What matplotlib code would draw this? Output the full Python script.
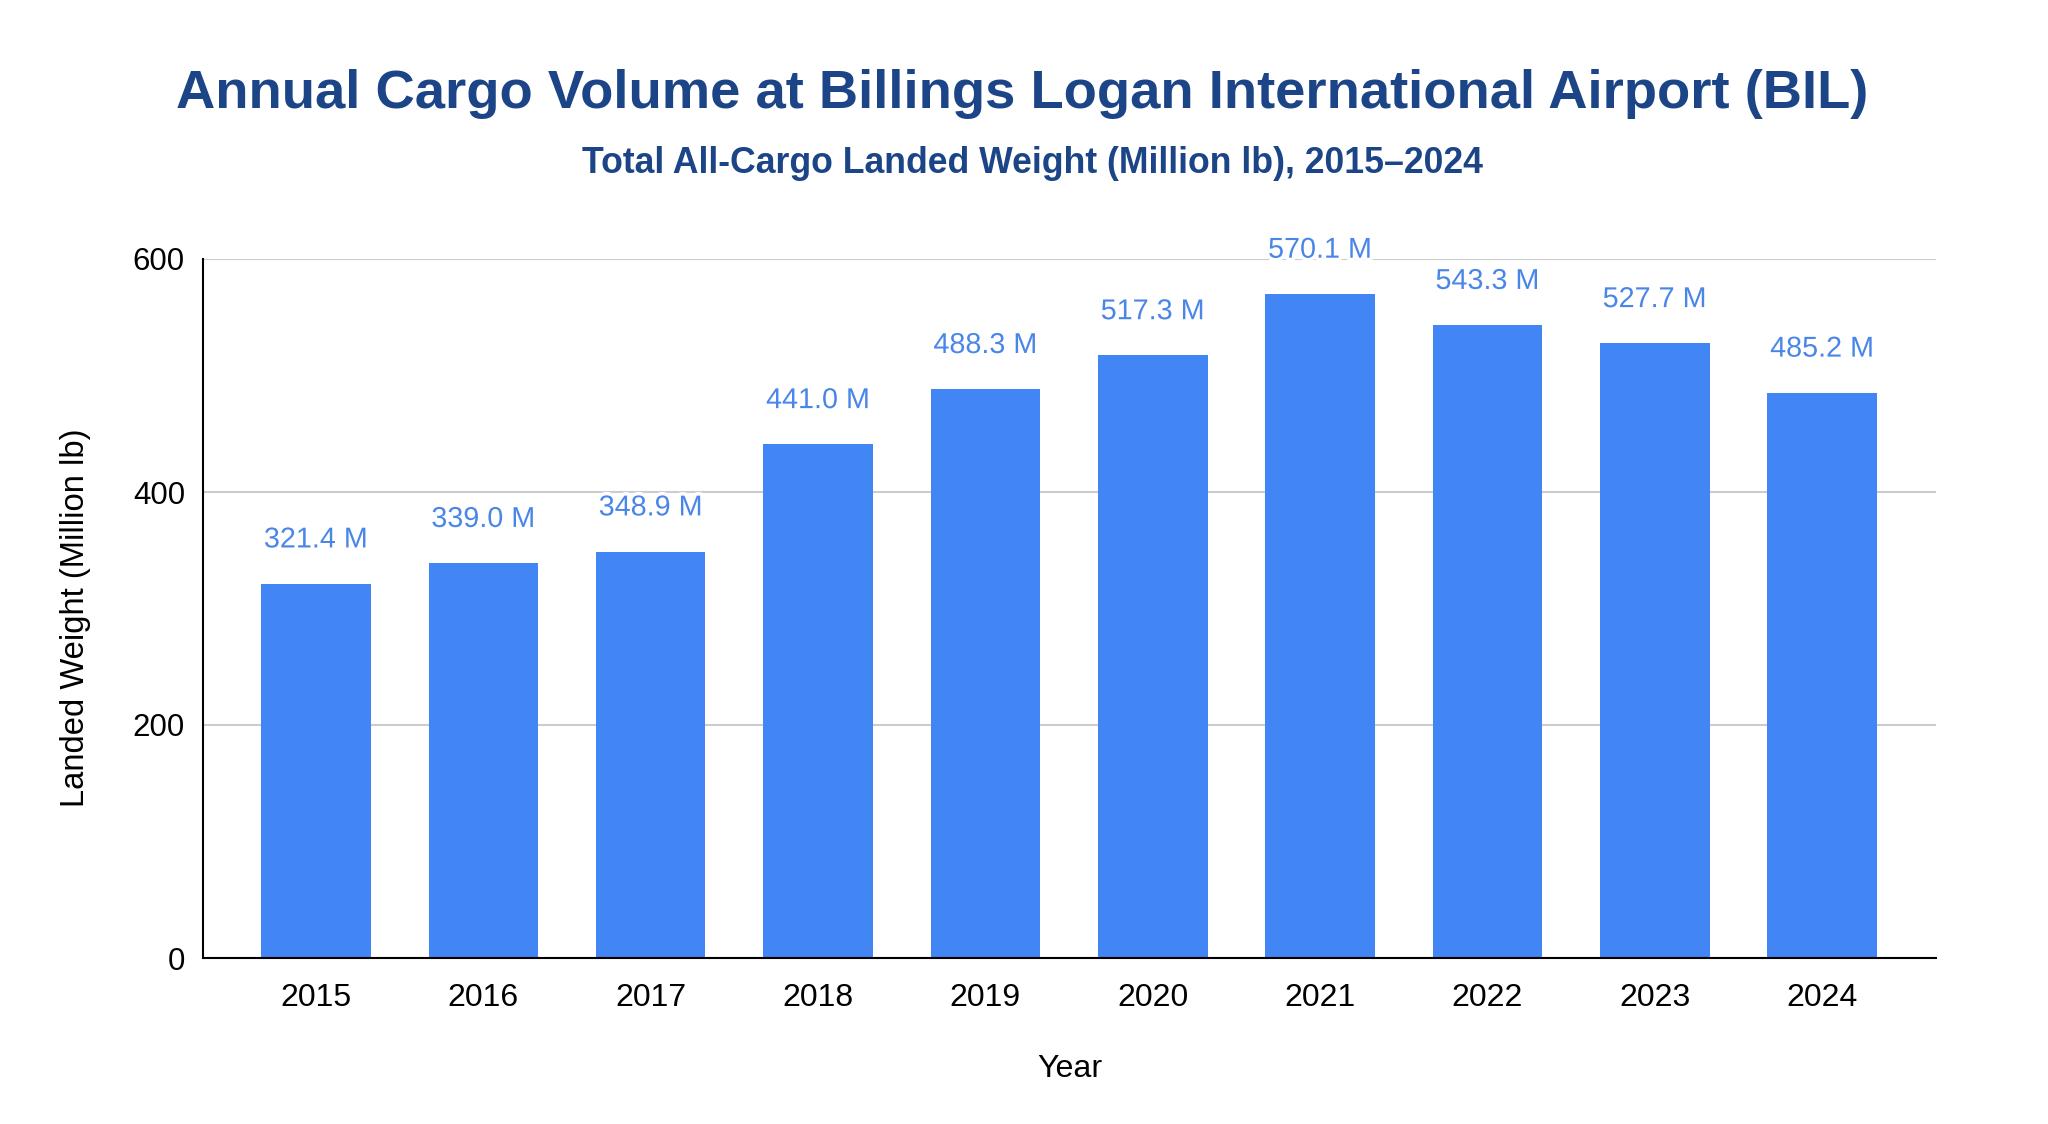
import matplotlib
matplotlib.use("Agg")
import matplotlib.pyplot as plt
import matplotlib.patheffects as pe

years = ["2015", "2016", "2017", "2018", "2019", "2020", "2021", "2022", "2023", "2024"]
weights = [321.4, 339.0, 348.9, 441.0, 488.3, 517.3, 570.1, 543.3, 527.7, 485.2]
yticks = [0, 200, 400, 600]

plt.rcParams['font.family'] = ['Liberation Sans', 'DejaVu Sans']

W, H = 2048, 1124
fig = plt.figure(figsize=(W / 100, H / 100), dpi=100)
ax = fig.add_axes([203 / W, 1 - 958 / H, (1936 - 203) / W, (958 - 259) / H])

bar_color = "#4285f4"
label_color = "#4a86e8"
x = list(range(len(years)))
bars = ax.bar(x, weights, width=0.655, color=bar_color, zorder=2)

for xi, v in zip(x, weights):
    ax.annotate(f"{v:.1f} M", xy=(xi, v), xytext=(0, 26), textcoords="offset points",
                ha="center", va="baseline", fontsize=20.7, color=label_color, zorder=4,
                path_effects=[pe.withStroke(linewidth=5, foreground="white")])

ax.set_xlim(-0.675, 9.68)
ax.set_ylim(0, 600)
ax.set_yticks(yticks)
ax.set_yticklabels([str(t) for t in yticks])
ax.set_xticks(x)
ax.set_xticklabels(years)
ax.tick_params(axis="both", length=0, colors="black")
ax.tick_params(axis="y", pad=13, labelsize=22.5)
ax.tick_params(axis="x", pad=18, labelsize=23)
ax.yaxis.grid(True, color="#cccccc", linewidth=1.5, zorder=0)
ax.set_axisbelow(True)
for s in ["top", "right"]:
    ax.spines[s].set_visible(False)
for s in ["left", "bottom"]:
    ax.spines[s].set_color("black")
    ax.spines[s].set_linewidth(1.5)
    ax.spines[s].set_zorder(3)

ax.set_xlabel("Year", fontsize=23.2, color="black")
ax.set_ylabel("Landed Weight (Million lb)", fontsize=23.6, color="black")
ax.xaxis.set_label_coords(0.5, -(1077 - 958) / (958 - 259))
ax.xaxis.label.set_va("baseline")
ax.yaxis.set_label_coords(-(203 - 76) / (1936 - 203), 0.487)
ax.yaxis.label.set_va("center")

fig.text(1022 / W, 1 - 108 / H, "Annual Cargo Volume at Billings Logan International Airport (BIL)",
         ha="center", va="baseline", fontsize=39.2, fontweight="bold", color="#1c4587")
fig.text(1032 / W, 1 - 173 / H, "Total All-Cargo Landed Weight (Million lb), 2015\u20132024",
         ha="center", va="baseline", fontsize=25.7, fontweight="bold", color="#1c4587")

fig.savefig("out.png", dpi=100, facecolor="white")
